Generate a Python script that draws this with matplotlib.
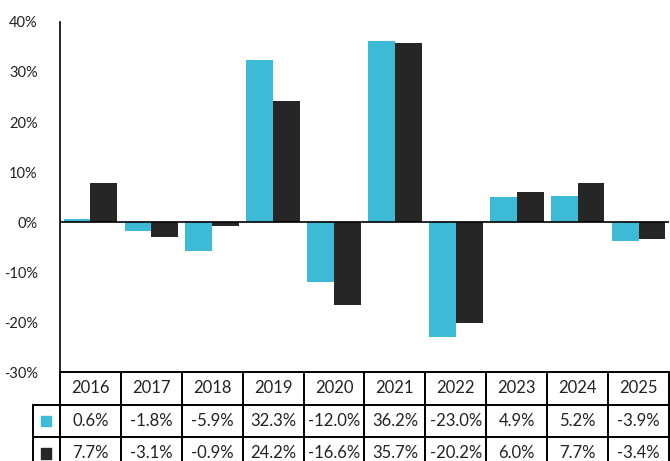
import matplotlib.pyplot as plt
import numpy as np

plt.rcParams['font.family'] = ['Lato', 'DejaVu Sans']

years = ['2016', '2017', '2018', '2019', '2020', '2021', '2022', '2023', '2024', '2025']
fund = [0.6, -1.8, -5.9, 32.3, -12.0, 36.2, -23.0, 4.9, 5.2, -3.9]
index = [7.7, -3.1, -0.9, 24.2, -16.6, 35.7, -20.2, 6.0, 7.7, -3.4]

cyan = '#3dbbd6'
dark = '#262626'

fig = plt.figure(figsize=(6.7, 4.61), dpi=100)
ax = fig.add_axes([60 / 670, 1 - 372 / 461, 609 / 670, 350 / 461])

x = np.arange(len(years))
w = 0.44
ax.bar(x - w / 2, fund, w, color=cyan)
ax.bar(x + w / 2, index, w, color=dark)
ax.axhline(0, color='black', lw=1.2)

ax.set_xlim(-0.5, 9.5)
ax.set_ylim(-30, 40)
ax.set_yticks(range(-30, 41, 10))
ax.set_yticklabels(['%d%%' % v for v in range(-30, 41, 10)], fontsize=10.5, color='#222222')
ax.tick_params(axis='y', length=0, pad=16)
ax.set_xticks([])
for s in ['top', 'right', 'bottom']:
    ax.spines[s].set_visible(False)
ax.spines['left'].set_linewidth(1.2)

# table under the bars: years, then one row per series (first column holds the keys)
cells = [[''] + ['%.1f%%' % v for v in fund], [''] + ['%.1f%%' % v for v in index]]
axw = 609.0
lab_w = 27.0
tbl = ax.table(cellText=cells, colLabels=[''] + years,
               colWidths=[lab_w / axw] + [61.0 / axw] * 10, cellLoc='center',
               bbox=[-lab_w / axw, -97.5 / 350, (axw + lab_w) / axw, 97.5 / 350])
tbl.auto_set_font_size(False)
for (r, c), cell in tbl.get_celld().items():
    cell.set_edgecolor('black')
    cell.set_linewidth(1.4)
    cell.get_text().set_fontsize(12)
    cell.get_text().set_color('#222222')
tbl[0, 0].set_visible(False)

# coloured keys in the label column
ax.scatter([-14 / axw, -14 / axw], [-49 / 350, -81.5 / 350], marker='s', s=52,
           c=[cyan, dark], transform=ax.transAxes, clip_on=False, zorder=5)

fig.savefig('out.png', dpi=100)
